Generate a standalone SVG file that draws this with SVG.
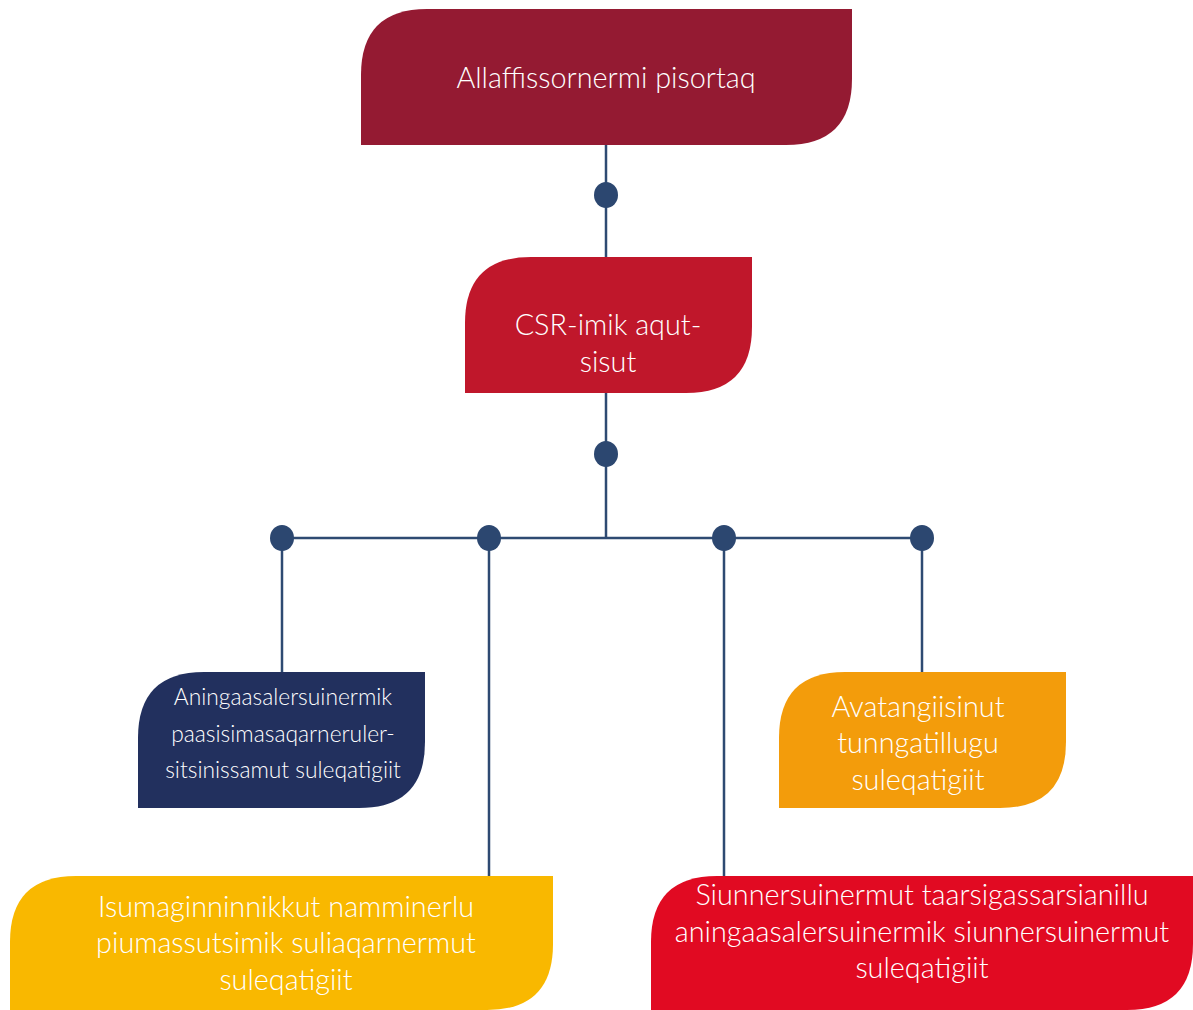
<svg xmlns="http://www.w3.org/2000/svg" width="1193" height="1010" viewBox="0 0 1193 1010">
<style>
.t{font-family:Lato,"Open Sans","Liberation Sans",sans-serif;font-weight:300;fill:#ffffff;text-anchor:middle}
.big{font-size:28.8px}
.sm{font-size:22.8px}
.ln{stroke:#2E4A72;stroke-width:2.5;fill:none}
.dot{fill:#2C4770}
</style>
<rect width="1193" height="1010" fill="#ffffff"/>
<g id="connectors">
<line class="ln" x1="606" y1="145" x2="606" y2="257"/>
<line class="ln" x1="606" y1="393" x2="606" y2="539"/>
<line class="ln" x1="282" y1="538" x2="922" y2="538"/>
<line class="ln" x1="282" y1="538" x2="282" y2="672"/>
<line class="ln" x1="489" y1="538" x2="489" y2="876"/>
<line class="ln" x1="724" y1="538" x2="724" y2="876"/>
<line class="ln" x1="922" y1="538" x2="922" y2="672"/>
<ellipse class="dot" cx="606" cy="195" rx="12" ry="13"/>
<ellipse class="dot" cx="606" cy="454" rx="12" ry="13"/>
<ellipse class="dot" cx="282" cy="538" rx="12" ry="13"/>
<ellipse class="dot" cx="489" cy="538" rx="12" ry="13"/>
<ellipse class="dot" cx="724" cy="538" rx="12" ry="13"/>
<ellipse class="dot" cx="922" cy="538" rx="12" ry="13"/>
</g>
<g id="node-top">
<path d="M361,145 V75 Q361,9 427,9 H852 V79 Q852,145 786,145 Z" fill="#941A32"/>
<text class="t big" x="606" y="88">Allaffissornermi pisortaq</text>
</g>
<g id="node-csr">
<path d="M465,393 V323 Q465,257 531,257 H752 V327 Q752,393 686,393 Z" fill="#C0172B"/>
<text class="t big" x="608" y="335">CSR-imik aqut-</text>
<text class="t big" x="608" y="372">sisut</text>
</g>
<g id="node-finance">
<path d="M138,808 V738 Q138,672 204,672 H425 V742 Q425,808 359,808 Z" fill="#22305E"/>
<text class="t sm" x="283" y="705">Aningaasalersuinermik</text>
<text class="t sm" x="283" y="742">paasisimasaqarneruler-</text>
<text class="t sm" x="283" y="778">sitsinissamut suleqatigiit</text>
</g>
<g id="node-environment">
<path d="M779,808 V738 Q779,672 845,672 H1066 V742 Q1066,808 1000,808 Z" fill="#F39C0B"/>
<text class="t big" x="918" y="717">Avatangiisinut</text>
<text class="t big" x="918" y="753">tunngatillugu</text>
<text class="t big" x="918" y="790">suleqatigiit</text>
</g>
<g id="node-volunteer">
<path d="M10,1010 V942 Q10,876 76,876 H553 V944 Q553,1010 487,1010 Z" fill="#F9B800"/>
<text class="t big" x="286" y="917">Isumaginninnikkut namminerlu</text>
<text class="t big" x="286" y="953">piumassutsimik suliaqarnermut</text>
<text class="t big" x="286" y="990">suleqatigiit</text>
</g>
<g id="node-advice">
<path d="M651,1010 V942 Q651,876 717,876 H1193 V944 Q1193,1010 1127,1010 Z" fill="#E10A22"/>
<text class="t big" x="922" y="905">Siunnersuinermut taarsigassarsianillu</text>
<text class="t big" x="922" y="942">aningaasalersuinermik siunnersuinermut</text>
<text class="t big" x="922" y="978">suleqatigiit</text>
</g>
</svg>
